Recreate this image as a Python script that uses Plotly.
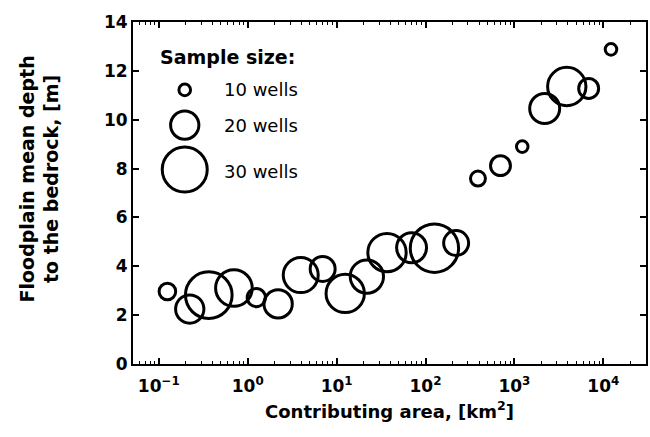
import numpy as np
import plotly.graph_objects as go

# ---------------- data ----------------
area_km2 = [0.125, 0.223, 0.365, 0.70, 1.25, 2.2, 3.95, 6.97, 12.5, 21.9, 36.9,
            69.7, 126, 221, 389, 697, 1225, 2190, 3880, 6840, 12200]
depth_m = [2.97, 2.25, 2.82, 3.11, 2.72, 2.46, 3.64, 3.89, 2.89, 3.58, 4.56,
           4.76, 4.74, 4.95, 7.59, 8.12, 8.90, 10.46, 11.36, 11.28, 12.88]
n_wells = [13, 20, 31, 25, 14, 20, 24, 18, 26, 23, 26,
           21, 32, 18, 12, 15, 10, 21, 26, 15, 10]

legend_wells = [10, 20, 30]
legend_labels = ["10 wells", "20 wells", "30 wells"]
legend_title = "Sample size:"

x_tick_exponents = [-1, 0, 1, 2, 3, 4]
y_ticks = [0, 2, 4, 6, 8, 10, 12, 14]

x_title = "Contributing area, [km<sup>2</sup>]"
y_title = "Floodplain mean depth<br>to the bedrock, [m]"

# ---------------- styling ----------------
FONT = "DejaVu Sans, Verdana, sans-serif"
LW = 3


def marker_diameter(n):
    return [1.67 * v - 5.1 for v in n]


fig = go.Figure()

fig.add_trace(go.Scatter(
    x=area_km2, y=depth_m, mode="markers",
    marker=dict(symbol="circle-open", size=marker_diameter(n_wells), opacity=1,
                color="black", line=dict(width=LW, color="black")),
    showlegend=False, hoverinfo="x+y+text", text=[f"{v} wells" for v in n_wells],
))

# legend key (placed in the upper-left of the axes)
leg_x = 10 ** -0.708
leg_y = [11.22, 9.78, 7.96]
fig.add_trace(go.Scatter(
    x=[leg_x] * len(legend_wells), y=leg_y, mode="markers",
    marker=dict(symbol="circle-open", size=marker_diameter(legend_wells), opacity=1,
                color="black", line=dict(width=LW, color="black")),
    showlegend=False, hoverinfo="skip",
))
for lab, yy in zip(legend_labels, [11.22, 9.78, 7.88]):
    fig.add_annotation(x=-0.292, y=yy, xref="x", yref="y", text=lab,
                       showarrow=False, xanchor="left", yanchor="middle",
                       font=dict(family=FONT, size=18, color="black"))
fig.add_annotation(x=-1.011, y=12.57, xref="x", yref="y", text=legend_title,
                   showarrow=False, xanchor="left", yanchor="middle",
                   font=dict(family=FONT, size=19, color="black", weight="bold"))

# y-axis title as annotation
fig.add_annotation(x=-0.183, y=0.54, xref="paper", yref="paper", text=y_title,
                   textangle=-90, showarrow=False, xanchor="center", yanchor="middle",
                   font=dict(family=FONT, size=19, color="black", weight="bold"))

minor_vals = [m * 10.0 ** e for e in range(-2, 5) for m in range(2, 10)]

fig.update_xaxes(
    type="log", range=[-1.29, 4.48],
    tickvals=[10.0 ** e for e in x_tick_exponents],
    ticktext=[f"10<sup>{'−' if e < 0 else ''}{abs(e)}</sup>" for e in x_tick_exponents],
    tickfont=dict(family=FONT, size=17, color="black", weight="bold"),
    ticklabelstandoff=6,
    ticks="inside", ticklen=6, tickwidth=1.5, tickcolor="black",
    minor=dict(tickvals=minor_vals, ticks="inside", ticklen=3, tickwidth=1.2, tickcolor="black"),
    showline=True, linewidth=2, linecolor="black", mirror="ticks",
    showgrid=False, zeroline=False,
    title=dict(text=x_title, standoff=10,
               font=dict(family=FONT, size=18, color="black", weight="bold")),
)
fig.update_yaxes(
    range=[0, 14], tickvals=y_ticks, ticktext=[str(v) for v in y_ticks],
    tickfont=dict(family=FONT, size=17, color="black", weight="bold"),
    ticks="inside", ticklen=6, tickwidth=1.5, tickcolor="black",
    showline=True, linewidth=2, linecolor="black", mirror="ticks",
    showgrid=False, zeroline=False,
)

fig.update_layout(
    width=650, height=437,
    margin=dict(l=133, r=2, t=22, b=73),
    paper_bgcolor="white", plot_bgcolor="white",
    font=dict(family=FONT, color="black"),
)

fig.write_html("out.html", config={"displayModeBar": False},
               post_script="document.body.style.margin='0';")
